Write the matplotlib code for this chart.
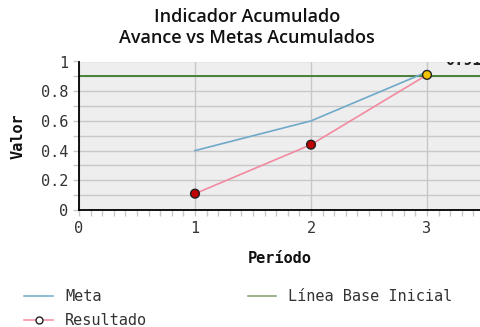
import matplotlib
matplotlib.use("Agg")
import matplotlib.pyplot as plt
from matplotlib.ticker import MultipleLocator
from matplotlib.lines import Line2D

# datos del indicador
periodos = [1, 2, 3]
meta = [0.40, 0.60, 0.93]
resultado = [0.11, 0.44, 0.91]
linea_base = 0.90
colores_punto = ["#c00000", "#c00000", "#f2c200"]

mono = "DejaVu Sans Mono"
gris_texto = "#333333"

fig = plt.figure(figsize=(4.81, 3.27), dpi=100)
ax = fig.add_axes([79 / 481, 117 / 327, 1 - 79 / 481, 148.5 / 327])
ax.set_facecolor("#eeeeee")

ax.set_xlim(0, (481 - 79) / 116)
ax.set_ylim(0, 1.0)

ax.xaxis.set_major_locator(MultipleLocator(1))
ax.xaxis.set_minor_locator(MultipleLocator(0.1))
ax.yaxis.set_major_locator(MultipleLocator(0.2))
ax.yaxis.set_minor_locator(MultipleLocator(0.1))
ax.grid(True, which="major", color="#c8c8c8", lw=1.0)
ax.grid(True, which="minor", axis="y", color="#c8c8c8", lw=1.0)
ax.set_axisbelow(True)

for s in ["top", "right"]:
    ax.spines[s].set_visible(False)
ax.spines["left"].set_color("black")
ax.spines["bottom"].set_color("black")
ax.spines["left"].set_linewidth(1.3)
ax.spines["bottom"].set_linewidth(1.3)

ax.tick_params(which="both", colors="#c8c8c8", labelcolor=gris_texto,
               labelsize=11, length=4, width=1)
ax.tick_params(axis="x", which="major", length=4, pad=4)
for lab in ax.get_xticklabels() + ax.get_yticklabels():
    lab.set_family(mono)
ax.xaxis.set_major_formatter(lambda v, p: f"{v:g}")
ax.yaxis.set_major_formatter(lambda v, p: f"{v:g}")

ax.axhline(linea_base, color="#3f7a2e", lw=1.3)
ax.plot(periodos, meta, color="#6fa9c9", lw=1.2)
ax.plot(periodos, resultado, color="#f28aa0", lw=1.2)
ax.scatter(periodos, resultado, s=40, c=colores_punto, edgecolors="#222222",
           linewidths=1.0, zorder=5)

ax.text(3.155, resultado[-1] + 0.066, f"{resultado[-1]:.2f}", family=mono,
        fontweight="bold", fontsize=11, color="#222222", clip_on=True)

ax.set_xlabel("Período", family=mono, fontweight="bold", fontsize=11,
              color="#111111", labelpad=11)
ax.set_ylabel("Valor", family=mono, fontweight="bold", fontsize=11,
              color="#111111", labelpad=11)

fig.text(0.513, 0.948, "Indicador Acumulado", ha="center", va="center",
         family="Open Sans", fontweight="semibold", fontsize=13, color="#111111")
fig.text(0.513, 0.883, "Avance vs Metas Acumulados", ha="center", va="center",
         family="Open Sans", fontweight="semibold", fontsize=13, color="#111111")

handles = [
    Line2D([], [], color="#6fa9c9", lw=1.1),
    Line2D([], [], color="#f28aa0", lw=1.1, marker="o", markersize=5,
           markerfacecolor="white", markeredgecolor="#222222"),
    Line2D([], [], color="#7f9f6f", lw=1.1),
]
etiquetas = ["Meta", "Resultado", "Línea Base Inicial"]
fig.legend(handles, etiquetas, loc="upper left", bbox_to_anchor=(0.038, 0.135),
           ncol=2, frameon=False, prop={"family": mono, "size": 11},
           labelcolor=gris_texto, handlelength=1.85, columnspacing=6.6,
           handletextpad=0.8, labelspacing=0.6, borderaxespad=0)

fig.savefig("out.png", dpi=100)
